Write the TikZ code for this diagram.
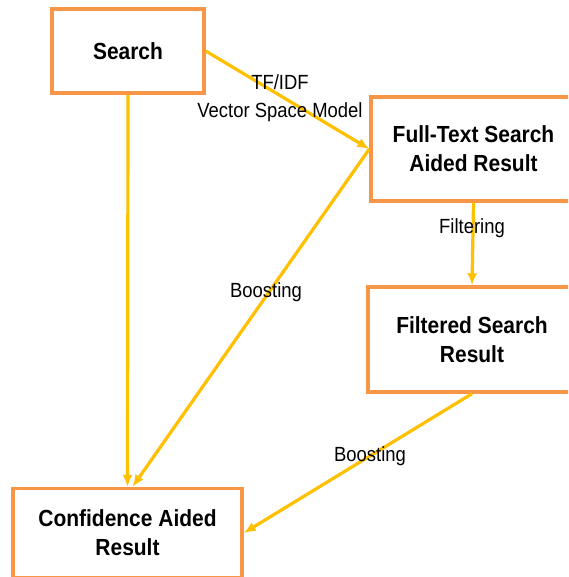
\documentclass[tikz,border=0pt]{standalone}
\usepackage{fontspec}
\setmainfont{Liberation Sans}[FakeStretch=0.9]
\usetikzlibrary{arrows.meta}
\definecolor{boxorange}{HTML}{F79646}
\definecolor{flowgold}{HTML}{FFC000}
\tikzset{
  stage/.style={draw=boxorange, line width=3.4pt, fill=white, align=center,
    font=\bfseries\fontsize{23.3}{29}\selectfont, inner sep=0pt},
  flow/.style={draw=flowgold, line width=3.2pt,
    -{Latex[length=12pt,width=10pt]}},
  note/.style={font=\fontsize{20.5}{28}\selectfont, align=center, inner sep=0pt}
}
\begin{document}
\begin{tikzpicture}[x=1pt,y=-1pt]
  \fill[white] (0,0) rectangle (568,577);
  \path[use as bounding box] (0,0) rectangle (568,577);
  \clip (0,0) rectangle (568,577);

  % process stages
  \node[stage, minimum width=152pt, minimum height=84pt] (search) at (128,51) {Search};
  \node[stage, minimum width=205pt, minimum height=104pt] (ft) at (473.5,149)
    {Full-Text Search\\Aided Result};
  \node[stage, minimum width=208pt, minimum height=105pt] (fs) at (472,339.5)
    {Filtered Search\\Result};
  \node[stage, minimum width=229pt, minimum height=89pt] (conf) at (127.5,533)
    {Confidence Aided\\Result};

  % connectors
  \draw[flow] (search.east) -- (ft.west);
  \draw[flow] (search.south) -- (conf.north);
  \draw[flow] (ft.west) -- ([xshift=5pt]conf.north);
  \draw[flow] (ft.south) -- (fs.north);
  \draw[flow] (fs.south) -- (conf.east);

  % connector labels
  \node[note] (lvsm) at (280,98) {TF/IDF\\Vector Space Model};
  \node[note] (lfilt) at (472,228) {Filtering};
  \node[note] (lboost1) at (266,292) {Boosting};
  \node[note] (lboost2) at (370,456) {Boosting};
\end{tikzpicture}
\end{document}
